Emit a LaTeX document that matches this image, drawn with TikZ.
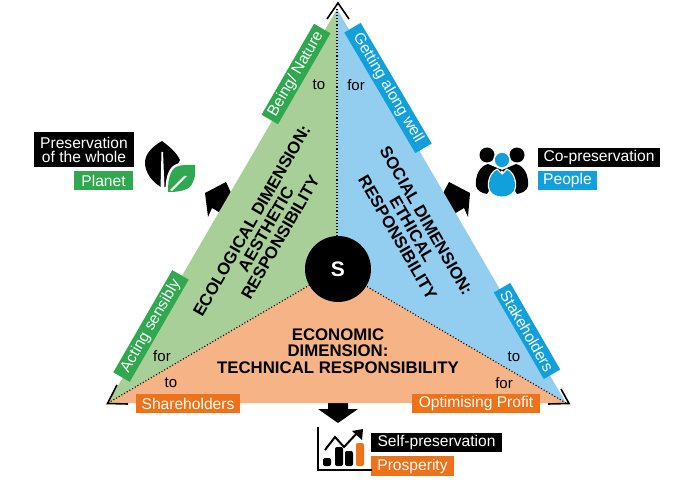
\documentclass[tikz,border=0pt]{standalone}
\usepackage{fontspec}
\setmainfont{Liberation Sans}
\definecolor{planetpale}{HTML}{A9CF98}
\definecolor{peoplepale}{HTML}{93CEF0}
\definecolor{profitpale}{HTML}{F5B386}
\definecolor{planetgreen}{HTML}{2FA84F}
\definecolor{peopleblue}{HTML}{12A0DC}
\definecolor{profitorange}{HTML}{EE7219}
\tikzset{
  tagbox/.style={text=white, font=\fontsize{15.6}{17}\selectfont, inner sep=0pt, minimum height=19pt, align=center},
  dimtext/.style={font=\fontsize{16.8}{16.5}\selectfont\bfseries, align=center, inner sep=0pt},
  linktext/.style={font=\fontsize{15}{16}\selectfont, inner sep=0pt},
  cornerline/.style={line width=1.6pt, line join=miter},
  dotline/.style={line width=1.1pt, dotted}
}
\begin{document}
\begin{tikzpicture}[x=1pt, y=-1pt]
  \useasboundingbox (0,0) rectangle (686,484);

  % coordinates of the triangle
  \coordinate (top) at (337,9);
  \coordinate (lft) at (108,403);
  \coordinate (rgt) at (566,403);
  \coordinate (mid) at (337,269);

  % outer arrows
  \fill (226,182) -- (205,193) -- (208,217) -- (212,208) -- (222,214) -- (232,195) -- cycle;
  \fill (449,182) -- (470,193) -- (468,217) -- (464,208) -- (454,214) -- (442,195) -- cycle;
  \fill (328,403) -- (348,403) -- (348,409) -- (358,409) -- (338,423) -- (318,409) -- (328,409) -- cycle;

  % three sectors
  \fill[planetpale] (top) -- (mid) -- (lft) -- cycle;
  \fill[peoplepale] (top) -- (mid) -- (rgt) -- cycle;
  \fill[profitpale] (lft) -- (mid) -- (rgt) -- cycle;

  % dotted borders
  \draw[dotline] (top) -- (mid);
  \draw[dotline] (lft) -- (mid);
  \draw[dotline] (rgt) -- (mid);

  % corners
  \draw[cornerline] (327,19) -- (338,3) -- (349,19);
  \draw[cornerline] (117,385) -- (107.5,403.5) -- (128,404);
  \draw[cornerline] (548,404) -- (569,403.5) -- (561,389);

  % centre
  \node[circle, fill=black, minimum size=66pt, inner sep=0pt, text=white, font=\fontsize{21}{22}\selectfont\bfseries] (core) at (338,269) {S};

  % dimension titles
  \node[dimtext, rotate=60] (ecological) at (266,229) {ECOLOGICAL DIMENSION:\\AESTHETIC\\RESPONSIBILITY};
  \node[dimtext, rotate=-60] (social) at (412,229) {SOCIAL DIMENSION:\\ETHICAL\\RESPONSIBILITY};
  \node[dimtext] (economic) at (338,351) {ECONOMIC\\DIMENSION:\\TECHNICAL RESPONSIBILITY};

  % labels along the edges
  \node[tagbox, fill=planetgreen, rotate=60, minimum width=105pt] (being) at (296,74) {Being/ Nature};
  \node[tagbox, fill=peopleblue, rotate=-59.5, minimum width=140pt] (getting) at (388,88) {Getting along well};
  \node[tagbox, fill=planetgreen, rotate=60, minimum width=118pt] (acting) at (151,326) {Acting sensibly};
  \node[tagbox, fill=peopleblue, rotate=-60, minimum width=100pt] (stake) at (527,331) {Stakeholders};
  \node[tagbox, fill=profitorange, minimum width=104pt] (share) at (188,403.5) {Shareholders};
  \node[tagbox, fill=profitorange, minimum width=128pt] (profit) at (476,403.5) {Optimising Profit};

  % to and for
  \node[linktext] (totop) at (319,85) {to};
  \node[linktext] (fortop) at (356,85) {for};
  \node[linktext] (forlft) at (162,356) {for};
  \node[linktext] (tolft) at (171,383) {to};
  \node[linktext] (torgt) at (514,357) {to};
  \node[linktext] (forrgt) at (504,383) {for};

  % captions, planet
  \node[tagbox, fill=black, minimum width=100pt, minimum height=35pt, font=\fontsize{15.6}{14}\selectfont] (whole) at (84,149.5) {Preservation\\of the whole};
  \node[tagbox, fill=planetgreen, minimum width=59pt] (planet) at (103.5,180.5) {Planet};

  % captions, people
  \node[tagbox, fill=black, minimum width=122pt] (copres) at (599,157.5) {Co-preservation};
  \node[tagbox, fill=peopleblue, minimum width=59pt] (people) at (567.5,180.5) {People};

  % captions, prosperity
  \node[tagbox, fill=black, minimum width=131pt] (selfpres) at (436.5,442.5) {Self-preservation};
  \node[tagbox, fill=profitorange, minimum width=83pt, minimum height=20pt] (prosper) at (412.5,466) {Prosperity};

  % leaf icon
  \fill (162,141) .. controls (150,148) and (145,155) .. (145,163) .. controls (145,172) and (152,182) .. (161,187) -- (166,187) -- (180,160) .. controls (176,152) and (170,147) .. (162,141) -- cycle;
  \fill[white] (161.5,152) -- (163,152) -- (164.5,188) -- (160.5,188) -- cycle;
  \draw[white, line width=5pt, fill=planetgreen] (195,165) .. controls (185,165) and (176,164) .. (172,171) .. controls (168,178) and (168,186) .. (168,192) .. controls (178,192) and (190,191) .. (193,182) .. controls (196,176) and (195,170) .. (195,165) -- cycle;
  \fill[planetgreen] (195,165) .. controls (185,165) and (176,164) .. (172,171) .. controls (168,178) and (168,186) .. (168,192) .. controls (178,192) and (190,191) .. (193,182) .. controls (196,176) and (195,170) .. (195,165) -- cycle;
  \fill[white] (187,176) -- (172,191) -- (170,190) -- (184,176) -- cycle;

  % people icon
  \fill (487,155) circle (7.5pt);
  \fill (517,155) circle (7.5pt);
  \fill (476,186) .. controls (475,175) and (480,166) .. (488,164) -- (502,170) -- (487,194) .. controls (482,193) and (477,191) .. (476,186) -- cycle;
  \fill (528,186) .. controls (529,175) and (524,166) .. (516,164) -- (502,170) -- (517,194) .. controls (522,193) and (527,191) .. (528,186) -- cycle;
  \draw[white, line width=2.5pt, fill=peopleblue] (489,186) .. controls (489,176) and (494,171) .. (497,170) -- (502,175) -- (507,170) .. controls (510,171) and (515,176) .. (515,186) .. controls (515,200) and (489,200) .. (489,186) -- cycle;
  \fill[peopleblue] (489,186) .. controls (489,176) and (494,171) .. (497,170) -- (502,175) -- (507,170) .. controls (510,171) and (515,176) .. (515,186) .. controls (515,200) and (489,200) .. (489,186) -- cycle;
  \draw[white, line width=1.5pt, fill=peopleblue] (502,160) circle (8pt);

  % chart icon
  \draw[line width=1.3pt] (318,427) -- (318,470) -- (372,470);
  \draw[line width=2pt] (325,450) -- (335,437) -- (344,447) -- (358,432);
  \fill (352,431) -- (363,429) -- (362,440) -- cycle;
  \fill[rounded corners=2pt] (323,458) rectangle (331,466);
  \fill[rounded corners=2pt] (335,447) rectangle (343,466);
  \fill[rounded corners=2pt] (345,451) rectangle (353,466);
  \fill[profitorange, rounded corners=2pt] (356,443) rectangle (364,466);
\end{tikzpicture}
\end{document}
